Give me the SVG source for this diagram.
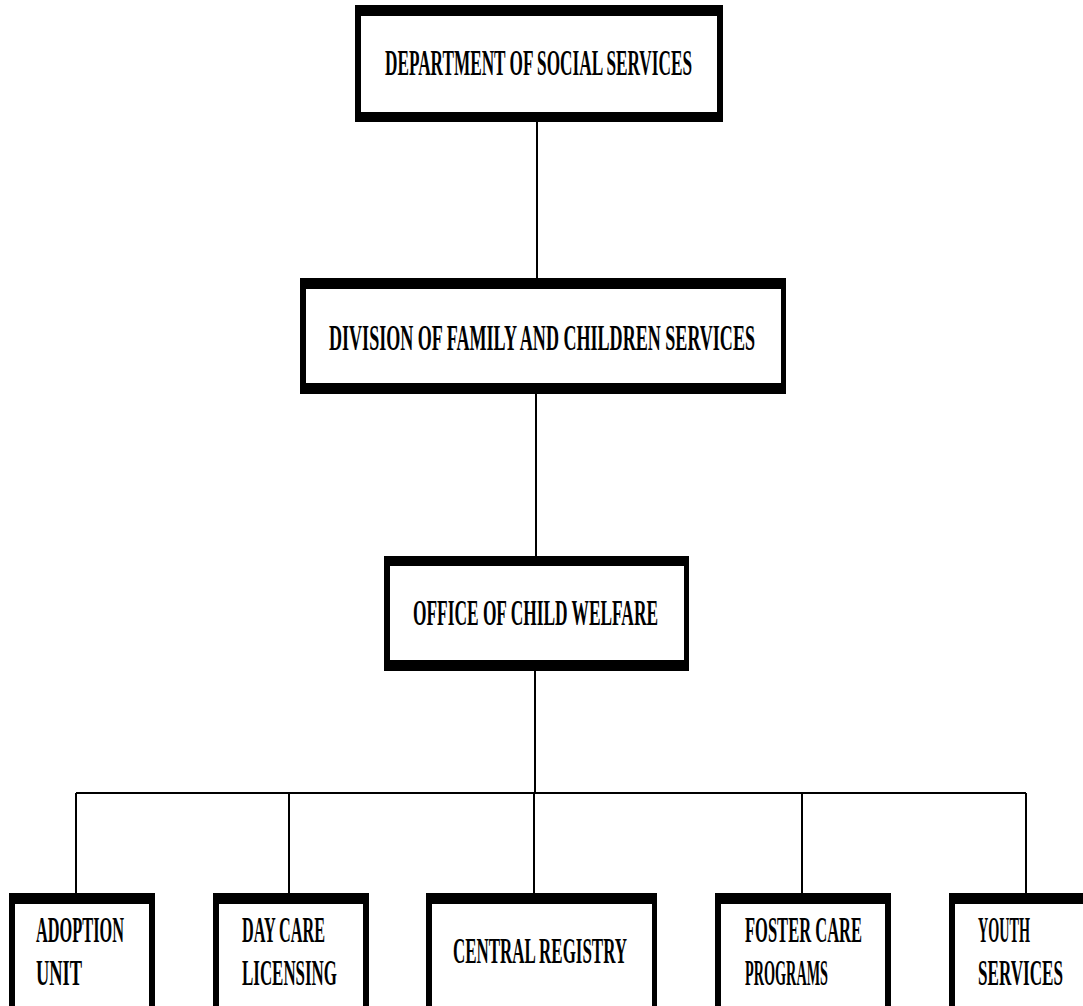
<svg xmlns="http://www.w3.org/2000/svg" width="1083" height="1006" viewBox="0 0 1083 1006">
  <style>
    .frame { fill: #000; }
    .face { fill: #fff; }
    /* tall condensed lettering: small size, stretched vertically */
    .label { font-family: "Liberation Serif", "Times New Roman", serif; font-weight: bold; font-size: 16px; fill: #000; }
    .link { stroke: #000; stroke-width: 2; fill: none; }
  </style>
  <rect width="1083" height="1006" fill="#fff"/>

  <!-- connectors -->
  <g id="connectors" class="link">
    <line x1="537" y1="122" x2="537" y2="278"/>
    <line x1="536" y1="394" x2="536" y2="556"/>
    <line x1="535" y1="671" x2="535" y2="793"/>
    <line x1="76" y1="793" x2="1026" y2="793"/>
    <line x1="76" y1="793" x2="76" y2="893"/>
    <line x1="289" y1="793" x2="289" y2="893"/>
    <line x1="534" y1="793" x2="534" y2="893"/>
    <line x1="802" y1="793" x2="802" y2="893"/>
    <line x1="1026" y1="793" x2="1026" y2="893"/>
  </g>

  <!-- top level -->
  <g id="dept-social-services">
    <rect class="frame" x="355" y="5" width="368" height="117"/>
    <rect class="face" x="361" y="16" width="356" height="96"/>
    <text class="label" transform="translate(385 75) scale(1 2.25)" textLength="307" lengthAdjust="spacingAndGlyphs">DEPARTMENT OF SOCIAL SERVICES</text>
  </g>

  <g id="div-family-children">
    <rect class="frame" x="300" y="278" width="486" height="116"/>
    <rect class="face" x="306" y="289" width="475" height="94"/>
    <text class="label" transform="translate(329 350) scale(1 2.25)" textLength="426" lengthAdjust="spacingAndGlyphs">DIVISION OF FAMILY AND CHILDREN SERVICES</text>
  </g>

  <g id="office-child-welfare">
    <rect class="frame" x="384" y="556" width="305" height="115"/>
    <rect class="face" x="390" y="566" width="294" height="94"/>
    <text class="label" transform="translate(413 625) scale(1 2.25)" textLength="245" lengthAdjust="spacingAndGlyphs">OFFICE OF CHILD WELFARE</text>
  </g>

  <!-- units -->
  <g id="adoption-unit">
    <rect class="frame" x="9" y="893" width="146" height="130"/>
    <rect class="face" x="15" y="904" width="134" height="130"/>
    <text class="label" transform="translate(36 942) scale(1 2.25)" textLength="88" lengthAdjust="spacingAndGlyphs">ADOPTION</text>
    <text class="label" transform="translate(36 985) scale(1 2.25)" textLength="46" lengthAdjust="spacingAndGlyphs">UNIT</text>
  </g>

  <g id="day-care-licensing">
    <rect class="frame" x="213" y="893" width="156" height="130"/>
    <rect class="face" x="219" y="904" width="144" height="130"/>
    <text class="label" transform="translate(242 942) scale(1 2.25)" textLength="83" lengthAdjust="spacingAndGlyphs">DAY CARE</text>
    <text class="label" transform="translate(242 985) scale(1 2.25)" textLength="95" lengthAdjust="spacingAndGlyphs">LICENSING</text>
  </g>

  <g id="central-registry">
    <rect class="frame" x="426" y="893" width="231" height="130"/>
    <rect class="face" x="432" y="904" width="220" height="130"/>
    <text class="label" transform="translate(453 963) scale(1 2.25)" textLength="174" lengthAdjust="spacingAndGlyphs">CENTRAL REGISTRY</text>
  </g>

  <g id="foster-care-programs">
    <rect class="frame" x="715" y="893" width="176" height="130"/>
    <rect class="face" x="721" y="904" width="164" height="130"/>
    <text class="label" transform="translate(745 942) scale(1 2.25)" textLength="117" lengthAdjust="spacingAndGlyphs">FOSTER CARE</text>
    <text class="label" transform="translate(745 985) scale(1 2.25)" textLength="83" lengthAdjust="spacingAndGlyphs">PROGRAMS</text>
  </g>

  <g id="youth-services">
    <rect class="frame" x="949" y="893" width="150" height="130"/>
    <rect class="face" x="955" y="904" width="150" height="130"/>
    <text class="label" transform="translate(978 942) scale(1 2.25)" textLength="52" lengthAdjust="spacingAndGlyphs">YOUTH</text>
    <text class="label" transform="translate(978 985) scale(1 2.25)" textLength="85" lengthAdjust="spacingAndGlyphs">SERVICES</text>
  </g>
</svg>
